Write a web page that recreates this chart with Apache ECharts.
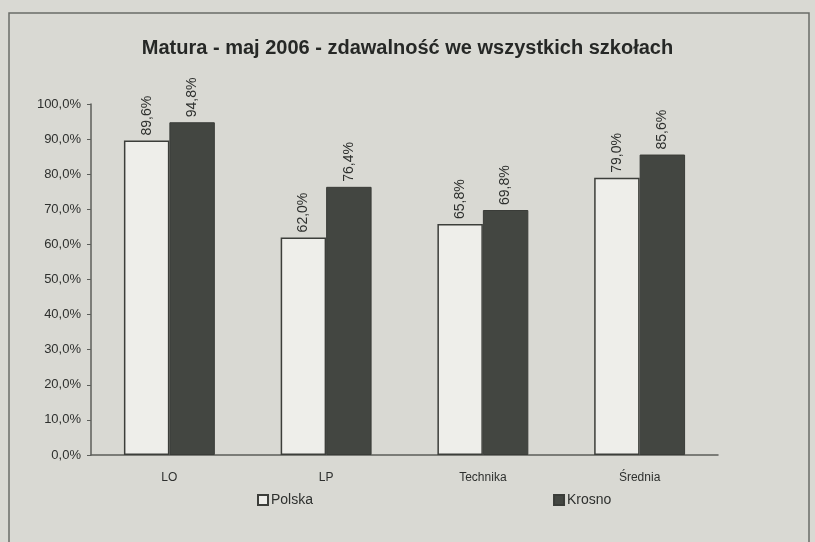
<!DOCTYPE html>
<html>
<head>
<meta charset="utf-8">
<script src="https://cdn.jsdelivr.net/npm/echarts@6/dist/echarts.min.js"></script>
<style>
  html, body { margin: 0; padding: 0; background: #e3e3de; }
  #chart { width: 815px; height: 542px; }
</style>
</head>
<body>
<div id="chart"></div>
<script>
const categories = ['LO', 'LP', 'Technika', 'Średnia'];
const polska = [89.6, 62.0, 65.8, 79.0];
const krosno = [94.8, 76.4, 69.8, 85.6];
const yTicks = [0, 10, 20, 30, 40, 50, 60, 70, 80, 90, 100];

const pct = v => v.toFixed(1).replace('.', ',') + '%';

const chart = echarts.init(document.getElementById('chart'));

const valueLabel = {
    show: true,
    position: 'top',
    rotate: 90,
    align: 'left',
    verticalAlign: 'middle',
    distance: 5,
    fontFamily: 'Liberation Sans',
    fontSize: 14,
    color: '#2e302e',
    formatter: p => pct(p.value)
};

chart.setOption({
    backgroundColor: '#d9d9d3',
    animation: false,
    title: {
        text: 'Matura - maj 2006 - zdawalność we wszystkich szkołach',
        left: 'center',
        top: 33,
        textStyle: {
            fontFamily: 'Liberation Sans',
            fontWeight: 'bold',
            fontSize: 20,
            color: '#262826'
        }
    },
    graphic: [{
        type: 'rect',
        shape: { x: 9, y: 13, width: 800, height: 540 },
        style: { fill: 'none', stroke: '#6a6c68', lineWidth: 1.5 }
    }],
    legend: {
        bottom: 30,
        left: 252,
        itemGap: 240,
        icon: 'rect',
        itemWidth: 10,
        itemHeight: 10,
        textStyle: { fontFamily: 'Liberation Sans', fontSize: 14, color: '#2e302e', padding: [0, 0, 0, -2] },
        data: ['Polska', 'Krosno']
    },
    grid: { left: 91, right: 97, top: 104, bottom: 87 },
    xAxis: {
        type: 'category',
        data: categories,
        axisLine: { lineStyle: { color: '#5c5e5a', width: 1.5 } },
        axisTick: { show: false },
        axisLabel: { fontFamily: 'Liberation Sans', fontSize: 12, color: '#2e302e', margin: 17 }
    },
    yAxis: {
        type: 'value',
        min: yTicks[0],
        max: yTicks[yTicks.length - 1],
        interval: 10,
        splitLine: { show: false },
        axisLine: { show: true, lineStyle: { color: '#5c5e5a', width: 1.5 } },
        axisTick: { show: true, length: 4, lineStyle: { color: '#5c5e5a' } },
        axisLabel: {
            fontFamily: 'Liberation Sans',
            fontSize: 13,
            color: '#2e302e',
            margin: 10,
            formatter: v => pct(v)
        }
    },
    series: [{
        name: 'Polska',
        type: 'bar',
        data: polska,
        barGap: 0,
        barCategoryGap: '42%',
        itemStyle: { color: '#eeeeea', borderColor: '#3c3e3a', borderWidth: 1.5 },
        label: valueLabel
    }, {
        name: 'Krosno',
        type: 'bar',
        data: krosno,
        itemStyle: { color: '#434641', borderColor: '#3a3c38', borderWidth: 1 },
        label: valueLabel
    }]
});
</script>
</body>
</html>
